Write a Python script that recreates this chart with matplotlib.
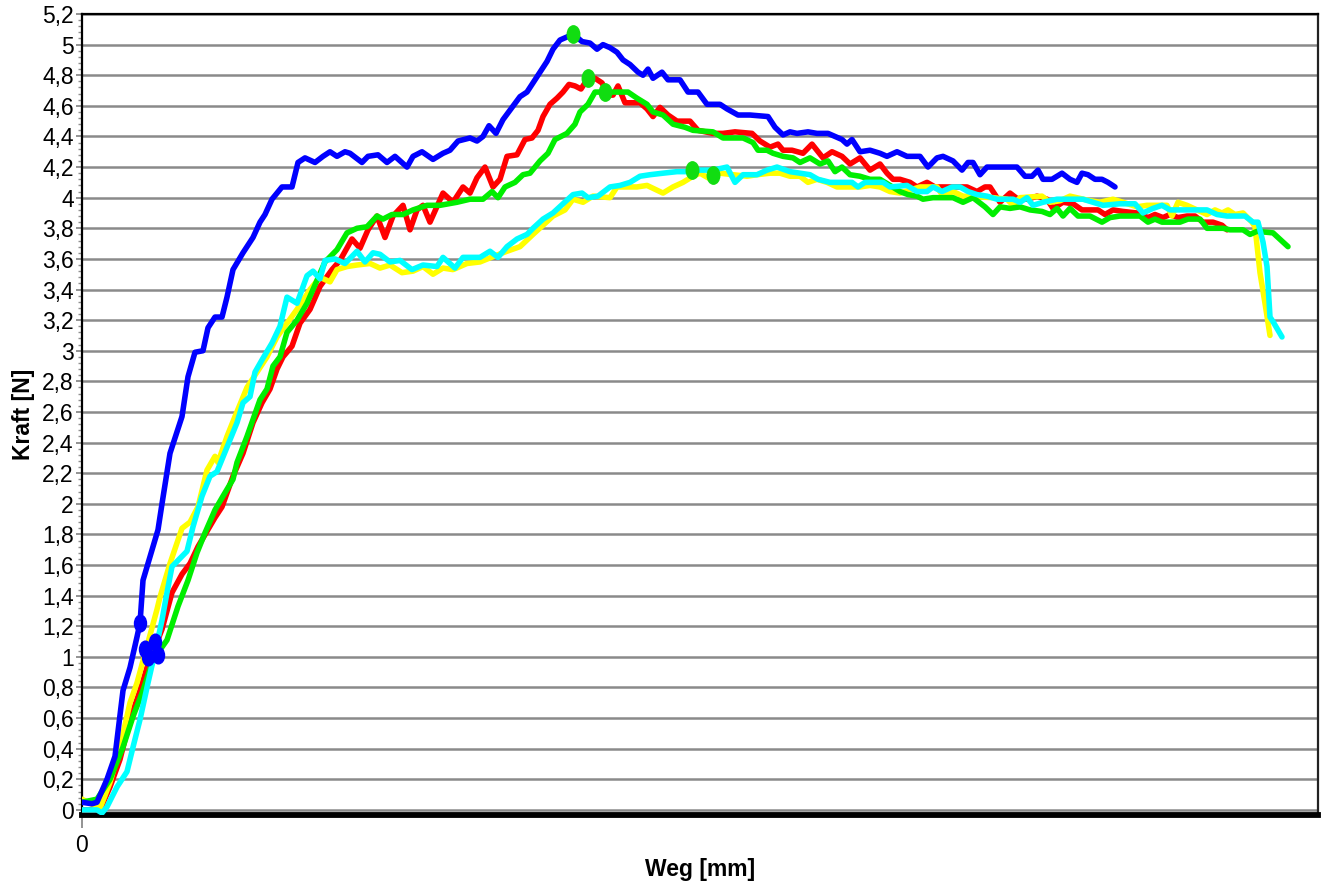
import matplotlib
matplotlib.use("Agg")
import matplotlib.pyplot as plt
from matplotlib.ticker import MultipleLocator, FixedLocator, FuncFormatter
from matplotlib.path import Path
from matplotlib.transforms import Affine2D
import numpy as np

# ---------------- data (Weg [mm], Kraft [N]) ----------------
blue = [(0.00,0.05),(0.10,0.04),(0.15,0.05),(0.25,0.20),(0.33,0.35),(0.41,0.78),(0.48,0.93),(0.55,1.13),
        (0.58,1.22),(0.61,1.50),(0.66,1.61),(0.71,1.72),(0.76,1.83),(0.80,2.00),(0.88,2.33),(1.00,2.57),
        (1.06,2.83),(1.13,2.99),(1.21,3.00),(1.26,3.15),(1.33,3.22),(1.40,3.22),(1.45,3.35),(1.51,3.53),
        (1.61,3.64),(1.71,3.74),(1.78,3.84),(1.83,3.89),(1.90,3.99),(2.00,4.07),(2.10,4.07),(2.16,4.23),
        (2.23,4.26),(2.33,4.23),(2.41,4.27),(2.48,4.30),(2.55,4.27),(2.63,4.30),(2.68,4.29),(2.80,4.23),
        (2.86,4.27),(2.96,4.28),(3.05,4.23),(3.13,4.27),(3.25,4.20),(3.31,4.27),(3.40,4.30),(3.51,4.25),
        (3.61,4.29),(3.68,4.31),(3.76,4.37),(3.88,4.39),(3.95,4.37),(4.01,4.40),(4.07,4.47),(4.14,4.42),
        (4.21,4.51),(4.30,4.59),(4.38,4.66),(4.45,4.69),(4.51,4.75),(4.58,4.82),(4.65,4.89),(4.71,4.97),
        (4.78,5.03),(4.85,5.05),(4.91,5.07),(5.00,5.02),(5.08,5.01),(5.15,4.97),(5.21,5.00),(5.28,4.98),
        (5.35,4.95),(5.41,4.90),(5.48,4.87),(5.56,4.82),(5.61,4.80),(5.66,4.84),(5.71,4.78),(5.80,4.82),
        (5.86,4.77),(5.98,4.77),(6.06,4.69),(6.16,4.69),(6.25,4.61),(6.38,4.61),(6.45,4.58),(6.56,4.54),
        (6.68,4.54),(6.86,4.53),(6.93,4.46),(7.01,4.41),(7.08,4.43),(7.15,4.42),(7.26,4.43),(7.35,4.42),
        (7.46,4.42),(7.53,4.40),(7.60,4.38),(7.65,4.35),(7.70,4.38),(7.78,4.30),(7.88,4.31),(7.98,4.29),
        (8.05,4.27),(8.15,4.30),(8.25,4.27),(8.38,4.27),(8.46,4.20),(8.55,4.26),(8.61,4.27),(8.71,4.24),
        (8.80,4.18),(8.86,4.23),(8.91,4.23),(8.98,4.15),(9.05,4.20),(9.15,4.20),(9.35,4.20),(9.43,4.14),
        (9.50,4.14),(9.56,4.18),(9.61,4.12),(9.70,4.12),(9.80,4.16),(9.88,4.12),(9.95,4.10),(10.00,4.16),
        (10.06,4.15),(10.13,4.12),(10.20,4.12),(10.26,4.10),(10.33,4.07)]

red = [(0.00,0.00),(0.18,0.00),(0.28,0.15),(0.38,0.33),(0.48,0.59),(0.58,0.78),(0.65,0.93),(0.80,1.18),
       (0.90,1.42),(1.00,1.54),(1.08,1.61),(1.16,1.72),(1.25,1.82),(1.33,1.91),(1.40,1.98),(1.51,2.18),
       (1.61,2.33),(1.71,2.53),(1.80,2.66),(1.88,2.75),(1.95,2.88),(2.01,2.96),(2.10,3.03),(2.18,3.18),
       (2.28,3.27),(2.38,3.42),(2.50,3.53),(2.58,3.59),(2.70,3.73),(2.78,3.67),(2.86,3.79),(2.95,3.88),
       (3.03,3.74),(3.11,3.88),(3.21,3.95),(3.28,3.79),(3.35,3.92),(3.41,3.95),(3.48,3.84),(3.61,4.03),
       (3.71,3.97),(3.81,4.07),(3.88,4.03),(3.95,4.13),(4.03,4.20),(4.11,4.07),(4.18,4.12),(4.25,4.27),
       (4.35,4.28),(4.43,4.38),(4.50,4.39),(4.56,4.44),(4.61,4.53),(4.68,4.61),(4.75,4.65),(4.81,4.69),
       (4.87,4.74),(4.93,4.73),(4.99,4.71),(5.03,4.75),(5.06,4.78),(5.13,4.78),(5.20,4.75),(5.26,4.67),
       (5.31,4.67),(5.36,4.73),(5.43,4.62),(5.58,4.62),(5.65,4.58),(5.71,4.53),(5.78,4.59),(5.86,4.54),
       (5.95,4.50),(6.08,4.50),(6.16,4.44),(6.31,4.42),(6.41,4.42),(6.53,4.43),(6.70,4.42),(6.78,4.37),
       (6.88,4.33),(6.96,4.35),(7.01,4.31),(7.10,4.31),(7.21,4.29),(7.30,4.35),(7.41,4.26),(7.50,4.30),
       (7.60,4.27),(7.68,4.22),(7.78,4.26),(7.88,4.18),(7.98,4.22),(8.05,4.16),(8.11,4.12),(8.18,4.12),
       (8.28,4.10),(8.35,4.07),(8.45,4.10),(8.53,4.07),(8.85,4.07),(8.95,4.04),(9.03,4.07),(9.08,4.07),
       (9.18,3.97),(9.28,4.03),(9.36,3.99),(9.46,3.99),(9.55,4.01),(9.65,3.99),(9.71,3.93),(9.81,3.97),
       (9.91,3.96),(10.00,3.92),(10.16,3.92),(10.23,3.89),(10.31,3.92),(10.41,3.91),(10.55,3.90),
       (10.66,3.87),(10.73,3.89),(10.81,3.87),(10.88,3.89),(10.96,3.87),(11.05,3.88),(11.13,3.88),
       (11.21,3.84),(11.31,3.84),(11.40,3.82),(11.45,3.79)]

green = [(0.00,0.05),(0.15,0.07),(0.28,0.20),(0.41,0.41),(0.51,0.61),(0.61,0.78),(0.71,0.98),(0.85,1.11),
         (0.96,1.33),(1.06,1.50),(1.15,1.68),(1.23,1.81),(1.33,1.96),(1.41,2.05),(1.51,2.16),(1.55,2.27),
         (1.65,2.44),(1.78,2.68),(1.85,2.75),(1.91,2.90),(1.98,2.96),(2.05,3.12),(2.15,3.20),(2.25,3.31),
         (2.35,3.46),(2.43,3.58),(2.55,3.66),(2.65,3.77),(2.75,3.80),(2.85,3.81),(2.95,3.88),(3.01,3.86),
         (3.10,3.89),(3.21,3.89),(3.31,3.92),(3.45,3.95),(3.58,3.95),(3.75,3.97),(3.88,3.99),(4.01,3.99),
         (4.10,4.04),(4.16,4.00),(4.23,4.07),(4.33,4.10),(4.41,4.15),(4.48,4.16),(4.58,4.24),(4.66,4.29),
         (4.73,4.38),(4.85,4.42),(4.93,4.48),(4.98,4.56),(5.06,4.61),(5.13,4.69),(5.23,4.69),(5.46,4.69),
         (5.55,4.65),(5.65,4.61),(5.71,4.56),(5.81,4.54),(5.91,4.48),(6.03,4.46),(6.11,4.44),(6.31,4.43),
         (6.41,4.39),(6.61,4.39),(6.71,4.36),(6.76,4.31),(6.85,4.31),(6.91,4.29),(7.01,4.27),(7.11,4.26),
         (7.18,4.23),(7.28,4.26),(7.38,4.22),(7.46,4.24),(7.53,4.17),(7.60,4.20),(7.68,4.15),(7.78,4.14),
         (7.88,4.12),(7.98,4.12),(8.08,4.08),(8.18,4.04),(8.26,4.02),(8.35,4.01),(8.41,3.99),(8.51,4.00),
         (8.71,4.00),(8.81,3.97),(8.91,4.00),(9.03,3.94),(9.11,3.89),(9.18,3.94),(9.28,3.93),(9.38,3.94),
         (9.48,3.92),(9.60,3.91),(9.68,3.89),(9.75,3.93),(9.81,3.88),(9.88,3.93),(9.96,3.88),(10.08,3.88),
         (10.20,3.84),(10.28,3.87),(10.38,3.88),(10.51,3.88),(10.58,3.88),(10.66,3.84),(10.73,3.86),
         (10.80,3.84),(10.98,3.84),(11.06,3.86),(11.18,3.86),(11.25,3.80),(11.41,3.80),(11.48,3.79),
         (11.61,3.79),(11.68,3.76),(11.75,3.78),(11.91,3.77),(11.96,3.74),(12.06,3.68)]

yellow = [(0.00,0.07),(0.18,0.01),(0.28,0.18),(0.38,0.41),(0.48,0.70),(0.55,0.83),(0.65,1.07),(0.75,1.31),
          (0.78,1.39),(0.88,1.61),(1.00,1.84),(1.08,1.88),(1.16,1.98),(1.25,2.22),(1.33,2.31),(1.36,2.27),
          (1.45,2.44),(1.53,2.57),(1.65,2.76),(1.75,2.86),(1.85,2.96),(1.95,3.09),(2.05,3.18),(2.15,3.27),
          (2.28,3.40),(2.38,3.48),(2.48,3.45),(2.55,3.53),(2.65,3.55),(2.75,3.56),(2.88,3.57),(2.98,3.54),
          (3.08,3.56),(3.20,3.51),(3.31,3.52),(3.41,3.55),(3.51,3.50),(3.61,3.54),(3.71,3.53),(3.85,3.57),
          (3.98,3.58),(4.13,3.62),(4.25,3.65),(4.38,3.68),(4.51,3.76),(4.61,3.82),(4.71,3.88),(4.83,3.92),
          (4.91,3.99),(5.01,3.97),(5.11,4.01),(5.28,4.00),(5.35,4.07),(5.55,4.07),(5.65,4.08),(5.81,4.03),
          (5.91,4.07),(6.01,4.10),(6.11,4.14),(6.18,4.16),(6.26,4.13),(6.38,4.16),(6.51,4.15),(6.65,4.14),
          (6.75,4.15),(6.88,4.16),(6.98,4.16),(7.08,4.14),(7.18,4.14),(7.26,4.10),(7.35,4.12),(7.45,4.10),
          (7.55,4.07),(7.78,4.07),(7.88,4.08),(7.98,4.07),(8.08,4.04),(8.18,4.03),(8.28,4.05),(8.38,4.07),
          (8.55,4.07),(8.61,4.01),(8.71,4.04),(8.81,4.01),(9.11,4.00),(9.25,3.99),(9.31,3.95),(9.38,4.00),
          (9.60,4.01),(9.68,3.97),(9.78,3.98),(9.88,4.01),(10.08,3.98),(10.18,3.97),(10.31,3.99),
          (10.41,3.97),(10.55,3.94),(10.65,3.95),(10.85,3.95),(10.90,3.88),(10.96,3.97),(11.05,3.95),
          (11.15,3.92),(11.25,3.89),(11.33,3.92),(11.40,3.90),(11.46,3.92),(11.53,3.89),(11.61,3.90),
          (11.70,3.84),(11.73,3.81),(11.78,3.51),(11.83,3.31),(11.88,3.10)]

cyan = [(0.00,0.00),(0.15,0.00),(0.20,-0.02),(0.25,0.02),(0.35,0.15),(0.45,0.25),(0.51,0.41),(0.58,0.59),
        (0.66,0.83),(0.73,1.03),(0.80,1.24),(0.85,1.42),(0.90,1.59),(1.05,1.69),(1.11,1.85),(1.20,2.05),
        (1.28,2.18),(1.35,2.21),(1.45,2.37),(1.55,2.53),(1.61,2.66),(1.68,2.70),(1.73,2.86),(1.80,2.94),
        (1.90,3.05),(1.98,3.16),(2.05,3.35),(2.15,3.31),(2.25,3.49),(2.31,3.52),(2.38,3.47),(2.43,3.59),
        (2.53,3.60),(2.63,3.57),(2.75,3.65),(2.83,3.58),(2.91,3.64),(2.98,3.63),(3.08,3.58),(3.18,3.59),
        (3.30,3.53),(3.41,3.56),(3.55,3.55),(3.61,3.61),(3.73,3.54),(3.81,3.61),(3.98,3.61),(4.08,3.65),
        (4.16,3.61),(4.25,3.68),(4.35,3.73),(4.45,3.76),(4.51,3.80),(4.61,3.86),(4.71,3.90),(4.81,3.96),
        (4.91,4.02),(5.00,4.03),(5.06,4.00),(5.16,4.01),(5.28,4.07),(5.38,4.08),(5.48,4.10),(5.58,4.14),
        (5.68,4.15),(5.81,4.16),(5.95,4.17),(6.08,4.17),(6.18,4.18),(6.31,4.18),(6.45,4.20),(6.53,4.10),
        (6.61,4.15),(6.75,4.15),(6.85,4.18),(6.95,4.20),(7.08,4.17),(7.28,4.15),(7.36,4.12),(7.48,4.10),
        (7.70,4.10),(7.76,4.07),(7.83,4.10),(8.01,4.10),(8.08,4.07),(8.25,4.08),(8.35,4.04),(8.45,4.04),
        (8.51,4.07),(8.60,4.04),(8.70,4.07),(8.78,4.07),(8.86,4.04),(8.95,4.02),(9.05,4.01),(9.15,3.99),
        (9.31,3.99),(9.38,3.97),(9.45,4.00),(9.51,3.95),(9.61,3.97),(9.75,3.99),(10.01,3.99),(10.11,3.97),
        (10.21,3.95),(10.38,3.96),(10.53,3.96),(10.61,3.90),(10.71,3.93),(10.80,3.95),(10.88,3.92),
        (11.25,3.92),(11.35,3.89),(11.45,3.88),(11.63,3.88),(11.71,3.84),(11.76,3.84),(11.81,3.71),
        (11.85,3.55),(11.88,3.22),(11.91,3.19),(12.00,3.09)]

# peak markers (Fmax) and start markers
peak_x = [4.91, 5.06, 5.23, 6.10, 6.31]
peak_y = [5.07, 4.78, 4.69, 4.18, 4.15]
start_x = [0.58, 0.63, 0.66, 0.73, 0.76]
start_y = [1.22, 1.05, 1.00, 1.10, 1.01]

y_ticks = [round(0.2 * i, 1) for i in range(27)]
x_ticks = [0]
x_max = 12.36

# ---------------- figure ----------------
plt.rcParams['font.family'] = ['Liberation Sans', 'DejaVu Sans']
fig = plt.figure(figsize=(13.21, 8.84), dpi=100)
ax = fig.add_axes([82/1321, 1 - 814.5/884, (1318-82)/1321, (814.5-14)/884])

ax.set_xlim(0, x_max)
ax.set_ylim(-0.03, 5.2)

# horizontal grid lines
for yv in y_ticks:
    ax.axhline(yv, color='#8a8a8a', lw=1.8, zorder=1)

series = [(red, '#ff0000'), (yellow, '#ffff00'), (green, '#00ee00'), (cyan, '#00ffff'), (blue, '#0000ff')]
for data, col in series:
    xs, ys = zip(*data)
    ax.plot(xs, ys, color=col, lw=4.0, solid_joinstyle='round', solid_capstyle='round', zorder=3)

ell = Path.unit_circle().transformed(Affine2D().scale(0.72, 1.0))
ax.plot(start_x, start_y, ls='none', marker=ell, ms=12, color='#0000ff', zorder=5)
ax.plot(peak_x, peak_y, ls='none', marker=ell, ms=12.5, color='#11dd11', zorder=5)

# spines
for side in ['left', 'top', 'right']:
    ax.spines[side].set_color('black')
    ax.spines[side].set_linewidth(1.6)
ax.spines['right'].set_color('#222222')
ax.spines['bottom'].set_color('black')
ax.spines['bottom'].set_linewidth(4.2)

# ticks
ax.yaxis.set_major_locator(FixedLocator(y_ticks))
ax.yaxis.set_minor_locator(MultipleLocator(0.04))
fmt = FuncFormatter(lambda v, p: ('%g' % round(v, 1)).replace('.', ','))
ax.yaxis.set_major_formatter(fmt)
ax.tick_params(axis='y', which='major', length=4, width=1.2, color='#808080', labelsize=16.5, pad=2)
ax.tick_params(axis='y', which='minor', length=3, width=1.0, color='#909090')
ax.xaxis.set_major_locator(FixedLocator(x_ticks))
ax.xaxis.set_major_formatter(FuncFormatter(lambda v, p: '%g' % v))
ax.tick_params(axis='x', which='major', length=9, width=1.2, color='#808080', labelsize=16.5, pad=5)

ax.set_xlabel('Weg [mm]', fontsize=16.5, fontweight='bold', labelpad=1)
ax.set_ylabel('Kraft [N]', fontsize=16.5, fontweight='bold', labelpad=5)

fig.savefig('out.png', dpi=100, facecolor='white')
